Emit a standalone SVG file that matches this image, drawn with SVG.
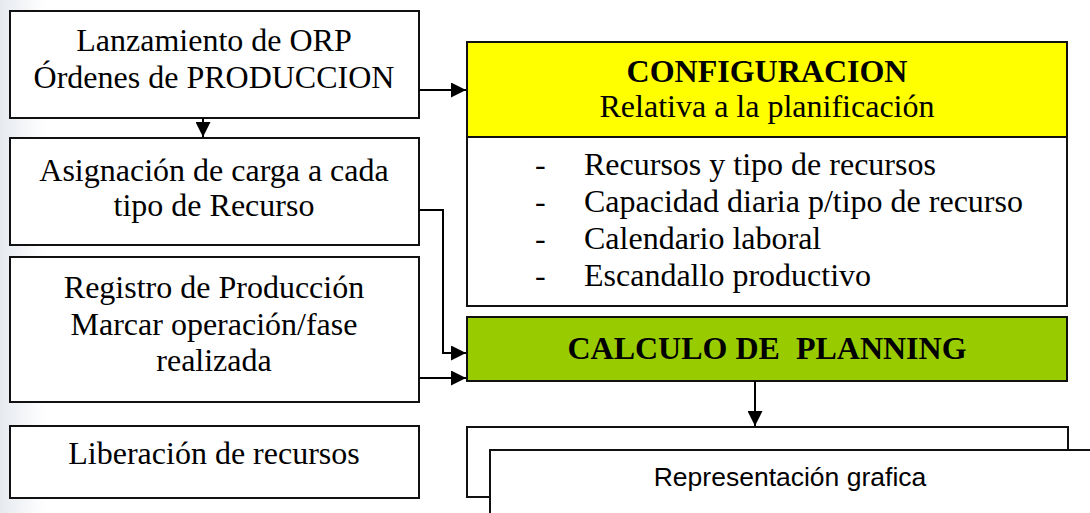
<svg xmlns="http://www.w3.org/2000/svg" width="1090" height="513" viewBox="0 0 1090 513">
<style>
.box{fill:#fff;stroke:#111;stroke-width:2}
.t{font-family:"Liberation Serif","Times New Roman",serif;font-size:32px;fill:#000;text-anchor:middle}
.b{font-weight:bold}
.l{font-family:"Liberation Serif","Times New Roman",serif;font-size:32px;fill:#000}
.s{font-family:"Liberation Sans",Arial,sans-serif;font-size:26.5px;fill:#000;text-anchor:middle}
.c{fill:none;stroke:#000;stroke-width:2}
</style>
<defs>
<linearGradient id="bg" x1="0" y1="0" x2="1" y2="0">
<stop offset="0" stop-color="#e6eaef"/>
<stop offset="1" stop-color="#ffffff"/>
</linearGradient>
<marker id="ah" viewBox="0 0 10 10" refX="10" refY="5" markerWidth="8.5" markerHeight="7.5" markerUnits="strokeWidth" orient="auto">
<path d="M0,0 L10,5 L0,10 z" fill="#000"/>
</marker>
</defs>
<rect x="0" y="0" width="1090" height="513" fill="#fff"/>
<rect x="0" y="0" width="45" height="513" fill="url(#bg)"/>

<g id="n1"><rect class="box" x="10" y="11" width="409" height="107"/>
<text class="t" x="214" y="51">Lanzamiento de ORP</text>
<text class="t" x="214" y="88">Órdenes de PRODUCCION</text></g>

<g id="n2"><rect class="box" x="10" y="138" width="409" height="107"/>
<text class="t" x="214" y="181">Asignación de carga a cada</text>
<text class="t" x="214" y="216">tipo de Recurso</text></g>

<g id="n3"><rect class="box" x="10" y="257" width="409" height="145"/>
<text class="t" x="214" y="298">Registro de Producción</text>
<text class="t" x="214" y="335">Marcar operación/fase</text>
<text class="t" x="214" y="371">realizada</text></g>

<g id="n4"><rect class="box" x="10" y="426" width="409" height="72"/>
<text class="t" x="214" y="464">Liberación de recursos</text></g>

<g id="n5"><rect x="467" y="42" width="600" height="95" fill="#ffff00" stroke="#111" stroke-width="2"/>
<rect class="box" x="467" y="137" width="600" height="169"/>
<text class="t b" x="767" y="82">CONFIGURACION</text>
<text class="t" x="767" y="117">Relativa a la planificación</text>
<text class="l" x="535" y="175">-</text><text class="l" x="584" y="175">Recursos y tipo de recursos</text>
<text class="l" x="535" y="212">-</text><text class="l" x="584" y="212">Capacidad diaria p/tipo de recurso</text>
<text class="l" x="535" y="249">-</text><text class="l" x="584" y="249">Calendario laboral</text>
<text class="l" x="535" y="286">-</text><text class="l" x="584" y="286">Escandallo productivo</text></g>

<g id="n6"><rect x="467" y="317" width="600" height="64" fill="#99cc00" stroke="#111" stroke-width="2"/>
<text class="t b" x="767" y="359" xml:space="preserve">CALCULO DE  PLANNING</text></g>

<g id="n7"><rect class="box" x="467" y="427" width="601" height="70"/>
<rect class="box" x="490" y="450" width="610" height="80"/>
<text class="s" x="790" y="486">Representación grafica</text></g>

<g id="connectors">
<line class="c" x1="203" y1="118" x2="203" y2="137" marker-end="url(#ah)"/>
<line class="c" x1="419" y1="90" x2="466" y2="90" marker-end="url(#ah)"/>
<polyline class="c" points="419,210 443,210 443,353 466,353" marker-end="url(#ah)"/>
<line class="c" x1="419" y1="378" x2="466" y2="378" marker-end="url(#ah)"/>
<line class="c" x1="755" y1="381" x2="755" y2="426" marker-end="url(#ah)"/>
</g>
</svg>
